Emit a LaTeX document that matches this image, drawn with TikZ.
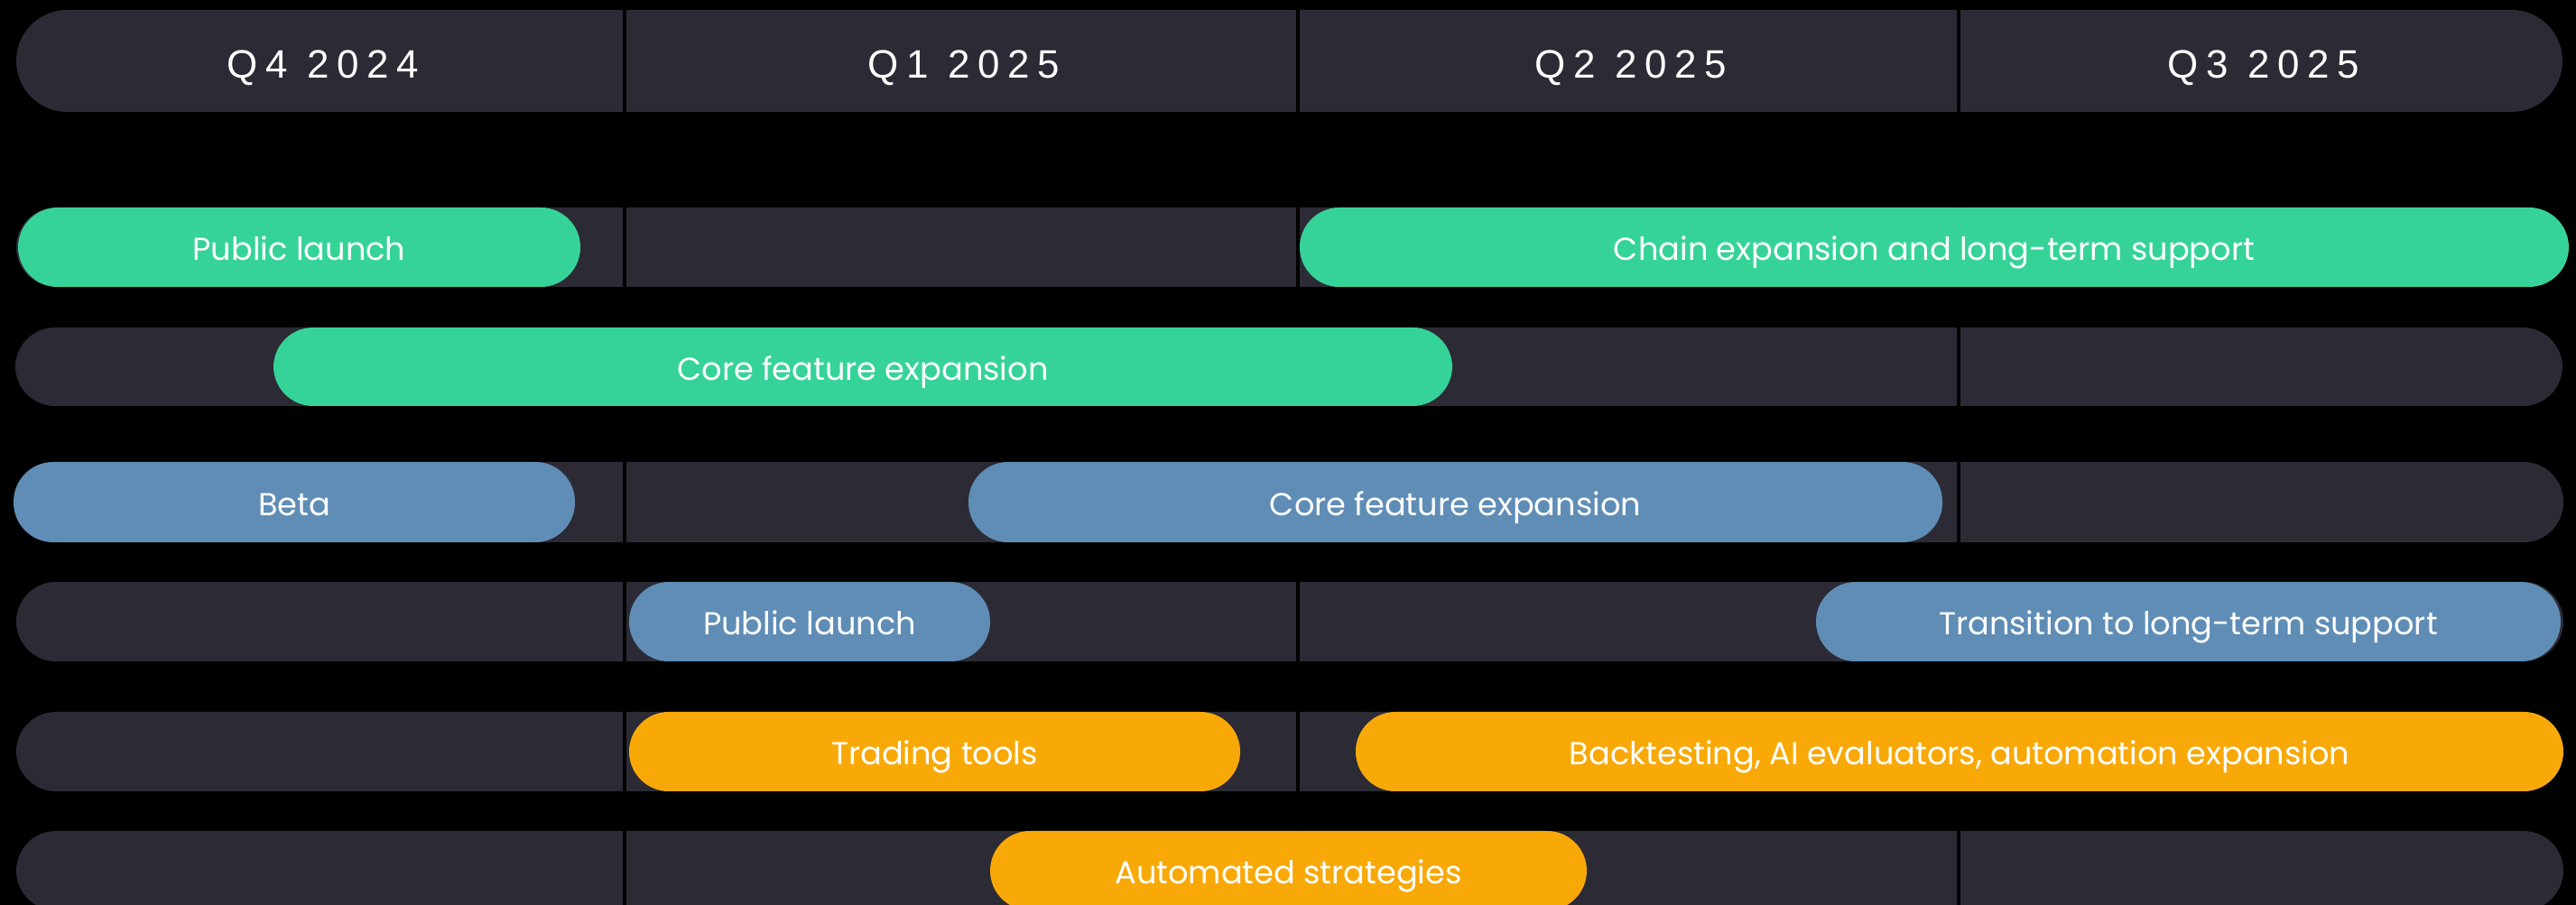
\documentclass[tikz,border=0pt]{standalone}
\usepackage{fontspec}
\setmainfont{Poppins}
\newfontfamily\headfont[LetterSpace=20]{Liberation Sans}
\definecolor{barbg}{HTML}{2C2B35}
\definecolor{cgreen}{HTML}{36D399}
\definecolor{cblue}{HTML}{5F8DB6}
\definecolor{corange}{HTML}{F8A908}
\begin{document}
\begin{tikzpicture}[
  darkbar/.style={fill=barbg, draw=none, rounded corners=0.44cm, minimum height=0.88cm, inner sep=0pt},
  headbar/.style={fill=barbg, draw=none, rounded corners=0.565cm, minimum height=1.13cm, inner sep=0pt},
  pill/.style={draw=none, rounded corners=0.44cm, minimum height=0.88cm, inner sep=0pt,
    text=white, font=\fontsize{10pt}{12pt}\selectfont, text height=0.30cm, text depth=0pt},
  gpill/.style={pill, fill=cgreen},
  bpill/.style={pill, fill=cblue},
  opill/.style={pill, fill=corange},
  headlbl/.style={text=white, font=\headfont\fontsize{12.5pt}{15pt}\selectfont, anchor=base, inner sep=0pt},
  divider/.style={draw=black, line width=0.04cm}
]
\fill[black] (0,0) rectangle (28.54,-10.03);
\useasboundingbox (0,0) rectangle (28.54,-10.03);

% header
\node[headbar, minimum width=28.21cm] (hdr) at (14.285,-0.675) {};
% row backgrounds
\node[darkbar, minimum width=28.22cm] (row1) at (14.29,-2.74) {};
\node[darkbar, minimum width=28.22cm, minimum height=0.87cm] (row2) at (14.28,-4.065) {};
\node[darkbar, minimum width=28.22cm, minimum height=0.89cm] (row3) at (14.29,-5.565) {};
\node[darkbar, minimum width=28.22cm] (row4) at (14.29,-6.89) {};
\node[darkbar, minimum width=28.22cm] (row5) at (14.29,-8.33) {};
\node[darkbar, minimum width=28.22cm] (row6) at (14.29,-9.65) {};

% column dividers
\foreach \n in {hdr,row1,row2,row3,row4,row5,row6}{
  \foreach \x in {6.92,14.38,21.70}{
    \draw[divider] (\n.north -| \x,0) -- (\n.south -| \x,0);
  }
}

% header labels
\node[headlbl] (q4) at (3.58,-0.87) {Q4 2024};
\node[headlbl] (q1) at (10.68,-0.87) {Q1 2025};
\node[headlbl] (q2) at (18.07,-0.87) {Q2 2025};
\node[headlbl] (q3) at (25.08,-0.87) {Q3 2025};

% row 1
\node[gpill, minimum width=6.23cm] (g1a) at (3.315,-2.74) {Public launch};
\node[gpill, minimum width=14.06cm] (g1b) at (21.43,-2.74) {Chain expansion and long-term support};
% row 2
\node[gpill, minimum width=13.06cm, minimum height=0.87cm] (g2a) at (9.56,-4.065) {Core feature expansion};
% row 3
\node[bpill, minimum width=6.22cm, minimum height=0.89cm] (b3a) at (3.26,-5.565) {Beta};
\node[bpill, minimum width=10.79cm, minimum height=0.89cm] (b3b) at (16.125,-5.565) {Core feature expansion};
% row 4
\node[bpill, minimum width=4.00cm] (b4a) at (8.97,-6.89) {Public launch};
\node[bpill, minimum width=8.25cm] (b4b) at (24.245,-6.89) {Transition to long-term support};
% row 5
\node[opill, minimum width=6.77cm] (o5a) at (10.355,-8.33) {Trading tools};
\node[opill, minimum width=13.38cm] (o5b) at (21.71,-8.33) {Backtesting, AI evaluators, automation expansion};
% row 6
\node[opill, minimum width=6.61cm] (o6a) at (14.275,-9.65) {Automated strategies};
\end{tikzpicture}
\end{document}
